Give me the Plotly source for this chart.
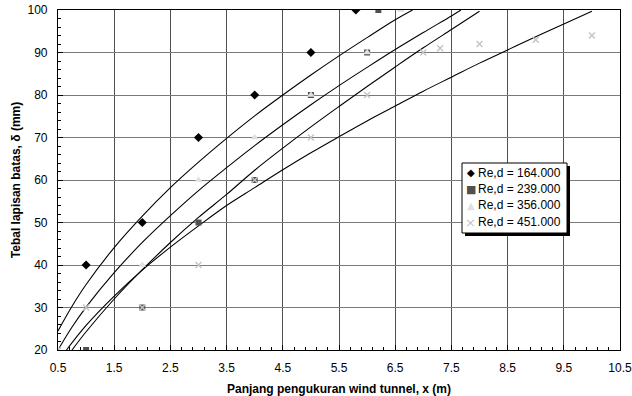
import plotly.graph_objects as go

# ---- measured points ----
x_164 = [1, 2, 3, 4, 5, 5.8]
y_164 = [40, 50, 70, 80, 90, 100]
x_239 = [1, 2, 3, 4, 5, 6, 6.2]
y_239 = [20, 30, 50, 60, 80, 90, 100]
x_356 = [0.5, 2, 3, 4, 5, 6, 6.6]
y_356 = [20, 40, 60, 70, 80, 90, 100]
x_451 = [0.5, 1, 2, 3, 4, 5, 6, 7, 7.3, 8, 9, 10]
y_451 = [20, 30, 30, 40, 60, 70, 80, 90, 91, 92, 93, 94]

# ---- trend curves ----
tx_164 = [0.5, 0.75, 1.0, 1.5, 2.0, 2.5, 3.0, 3.5, 4.0, 4.5, 5.0, 5.5, 6.0, 6.5, 6.81]
ty_164 = [24.5, 30.3, 35.4, 44.1, 51.5, 58.2, 64.2, 69.8, 75.1, 80.0, 84.7, 89.2, 93.5, 97.7, 100]
tx_239 = [0.5, 0.75, 1.0, 1.5, 2.0, 2.5, 3.0, 3.5, 4.0, 4.5, 5.0, 5.5, 6.0, 6.5, 7.0, 7.5, 7.67]
ty_239 = [20, 25.4, 30.1, 38.2, 45.3, 51.6, 57.5, 62.9, 68.1, 73.0, 77.7, 82.2, 86.5, 90.7, 94.7, 98.6, 100]
tx_356 = [0.75, 1.0, 1.5, 2.0, 2.5, 3.0, 3.5, 4.0, 4.5, 5.0, 5.5, 6.0, 6.5, 7.0, 7.5, 8.0]
ty_356 = [20.0, 24.3, 32.0, 38.9, 45.3, 51.2, 56.6, 62.3, 67.5, 72.5, 77.3, 82.0, 86.6, 91.1, 95.4, 99.7]
tx_451 = [0.65, 1.0, 1.5, 2.0, 2.5, 3.0, 3.5, 4.0, 4.5, 5.0, 5.5, 6.0, 6.5, 7.0, 7.5, 8.0, 8.5, 9.0, 9.5, 10.0]
ty_451 = [20.0, 25.8, 32.7, 38.8, 44.2, 49.2, 54.0, 58.2, 62.4, 66.4, 70.2, 73.9, 77.4, 80.9, 84.2, 87.5, 90.6, 93.7, 96.7, 99.7]

# ---- tick values ----
x_ticks = [0.5, 1.5, 2.5, 3.5, 4.5, 5.5, 6.5, 7.5, 8.5, 9.5, 10.5]
x_ticklabels = ["0.5", "1.5", "2.5", "3.5", "4.5", "5.5", "6.5", "7.5", "8.5", "9.5", "10.5"]
y_ticks = [20, 30, 40, 50, 60, 70, 80, 90, 100]

names = ["Re,d = 164.000", "Re,d = 239.000", "Re,d = 356.000", "Re,d = 451.000"]
legend_glyphs = ["◆", "■", "▲", "×"]
colors = ["black", "#505050", "#e0e0e0", "#c4c4c4"]

FONT = "Liberation Sans, Arial, sans-serif"

# plot-area pixel geometry (for placing the hand-drawn legend)
W, H = 632, 396
L, R, T, B = 58, 12, 10, 46
PW, PH = W - L - R, H - T - B


def px(xp):
    return (xp - L) / PW


def py(yp):
    return (H - B - yp) / PH


fig = go.Figure()

for tx, ty in [(tx_164, ty_164), (tx_239, ty_239), (tx_356, ty_356), (tx_451, ty_451)]:
    fig.add_trace(go.Scatter(x=tx, y=ty, mode="lines", line=dict(color="black", width=1.1, shape="spline"),
                             showlegend=False, hoverinfo="skip"))

fig.add_trace(go.Scatter(x=x_164, y=y_164, mode="markers", name=names[0], showlegend=False,
                         marker=dict(symbol="diamond", size=7, color=colors[0])))
fig.add_trace(go.Scatter(x=x_239, y=y_239, mode="markers", name=names[1], showlegend=False,
                         marker=dict(symbol="square", size=6, color=colors[1])))
fig.add_trace(go.Scatter(x=x_356, y=y_356, mode="markers", name=names[2], showlegend=False,
                         marker=dict(symbol="triangle-up", size=7, color=colors[2])))
fig.add_trace(go.Scatter(x=x_451, y=y_451, mode="markers", name=names[3], showlegend=False,
                         marker=dict(symbol="x-thin", size=6, line=dict(color=colors[3], width=1.4))))

# legend box with shadow
shapes = [
    dict(type="rect", xref="paper", yref="paper", layer="above",
         x0=px(465), x1=px(570), y0=py(236), y1=py(166), fillcolor="black", line=dict(width=0)),
    dict(type="rect", xref="paper", yref="paper", layer="above",
         x0=px(462), x1=px(567), y0=py(233), y1=py(163), fillcolor="white",
         line=dict(color="black", width=1)),
]
annotations = []
row_y = [172.7, 189.3, 205.5, 222]
glyph_size = [10, 11, 10, 13]
for i in range(4):
    annotations.append(dict(xref="paper", yref="paper", x=px(470.5), y=py(row_y[i]), xanchor="center",
                            yanchor="middle", showarrow=False, text=legend_glyphs[i], borderpad=0,
                            font=dict(size=glyph_size[i], color=colors[i], family="DejaVu Sans")))
    annotations.append(dict(xref="paper", yref="paper", x=px(476.5), y=py(row_y[i]), xanchor="left",
                            yanchor="middle", showarrow=False, text=names[i], borderpad=0,
                            font=dict(size=12, color="black", family=FONT)))

fig.update_layout(
    width=W, height=H,
    margin=dict(l=L, r=R, t=T, b=B, autoexpand=False),
    paper_bgcolor="white", plot_bgcolor="white",
    font=dict(family=FONT, size=12, color="black"),
    showlegend=False,
    shapes=shapes, annotations=annotations,
    xaxis=dict(range=[0.5, 10.5], tickmode="array", tickvals=x_ticks, ticktext=x_ticklabels,
               showgrid=True, gridcolor="#505050", gridwidth=1, automargin=False,
               showline=True, linecolor="black", linewidth=1.2, mirror=True, ticklabeloverflow="allow",
               ticks="inside", ticklen=5, tickcolor="black", zeroline=False, ticklabelstandoff=6,
               minor=dict(ticks="inside", dtick=0.2, tick0=0.5, ticklen=3, tickcolor="black", showgrid=False),
               title=dict(text="<b>Panjang pengukuran wind tunnel, x (m)</b>", font=dict(size=12))),
    yaxis=dict(range=[20, 100], tickmode="array", tickvals=y_ticks,
               showgrid=True, gridcolor="#7a7a7a", gridwidth=1, automargin=True,
               showline=True, linecolor="black", linewidth=1.2, mirror=True,
               ticks="inside", ticklen=5, tickcolor="black", zeroline=False, ticklabelstandoff=7,
               minor=dict(ticks="inside", dtick=2, ticklen=3, tickcolor="black", showgrid=False),
               title=dict(text="<b>Tebal lapisan batas, δ (mm)</b>", font=dict(size=12), standoff=4)),
)

fig.write_html("out.html")
